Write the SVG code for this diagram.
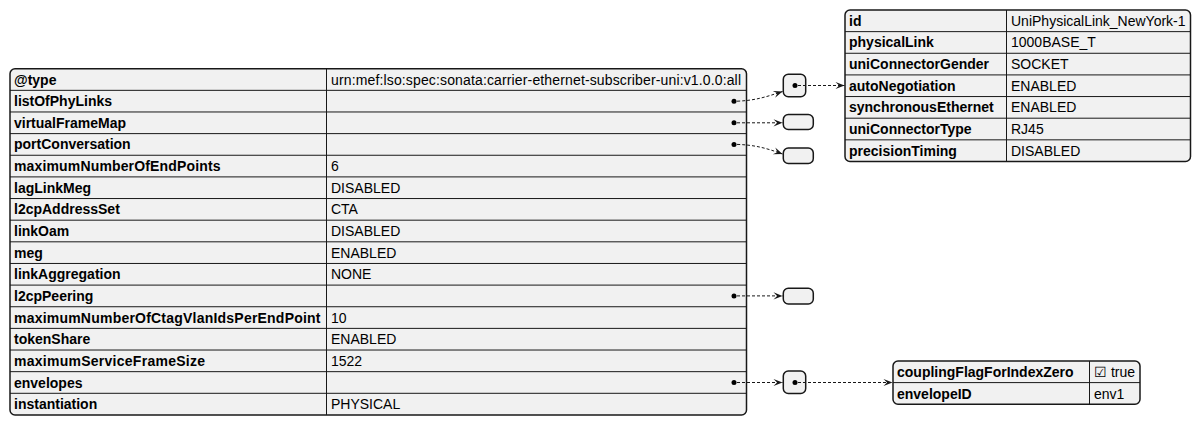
<svg xmlns="http://www.w3.org/2000/svg" width="1201" height="426" viewBox="0 0 1201 426">
<style>
.tbl{fill:#F1F1F1;stroke:#181818;stroke-width:1.5}
.ln{stroke:#181818;stroke-width:1;fill:none}
.k{font-family:"Liberation Sans",Arial,sans-serif;font-size:14px;font-weight:bold;fill:#000}
.v{font-family:"Liberation Sans",Arial,sans-serif;font-size:14px;fill:#000}
.dot{fill:#000}
.c{stroke:#181818;stroke-width:1;fill:none;stroke-dasharray:3,2}
</style>
<defs>
<marker id="ah" viewBox="0 0 10 10" refX="10" refY="5" markerWidth="10" markerHeight="9" orient="auto" markerUnits="userSpaceOnUse">
<path d="M0,1 L10,5 L0,9 L4,5 Z" fill="#181818"/>
</marker>
</defs>
<rect width="1201" height="426" fill="#FFFFFF"/>

<g id="main">
<rect class="tbl" x="10" y="68.7" width="736.5" height="346.2" rx="5"/>
<line class="ln" x1="326.5" y1="68.7" x2="326.5" y2="414.9"/>
<path class="ln" d="M10,90.34H746.5M10,111.98H746.5M10,133.62H746.5M10,155.26H746.5M10,176.9H746.5M10,198.54H746.5M10,220.18H746.5M10,241.82H746.5M10,263.46H746.5M10,285.1H746.5M10,306.74H746.5M10,328.38H746.5M10,350.02H746.5M10,371.66H746.5M10,393.3H746.5"/>
<text class="k" x="14" y="84.5">@type</text>
<text class="k" x="14" y="106.1">listOfPhyLinks</text>
<text class="k" x="14" y="127.8">virtualFrameMap</text>
<text class="k" x="14" y="149.4">portConversation</text>
<text class="k" x="14" y="171.1" textLength="206.5" lengthAdjust="spacing">maximumNumberOfEndPoints</text>
<text class="k" x="14" y="192.7">lagLinkMeg</text>
<text class="k" x="14" y="214.3">l2cpAddressSet</text>
<text class="k" x="14" y="236">linkOam</text>
<text class="k" x="14" y="257.6">meg</text>
<text class="k" x="14" y="279.3">linkAggregation</text>
<text class="k" x="14" y="300.9">l2cpPeering</text>
<text class="k" x="14" y="322.5" textLength="306.5" lengthAdjust="spacing">maximumNumberOfCtagVlanIdsPerEndPoint</text>
<text class="k" x="14" y="344.2">tokenShare</text>
<text class="k" x="14" y="365.8" textLength="191" lengthAdjust="spacing">maximumServiceFrameSize</text>
<text class="k" x="14" y="387.5">envelopes</text>
<text class="k" x="14" y="409.1">instantiation</text>
<text class="v" x="331" y="84.5" textLength="410" lengthAdjust="spacing">urn:mef:lso:spec:sonata:carrier-ethernet-subscriber-uni:v1.0.0:all</text>
<text class="v" x="331" y="171.1">6</text>
<text class="v" x="331" y="192.7">DISABLED</text>
<text class="v" x="331" y="214.3">CTA</text>
<text class="v" x="331" y="236">DISABLED</text>
<text class="v" x="331" y="257.6">ENABLED</text>
<text class="v" x="331" y="279.3">NONE</text>
<text class="v" x="331" y="322.5">10</text>
<text class="v" x="331" y="344.2">ENABLED</text>
<text class="v" x="331" y="365.8">1522</text>
<text class="v" x="331" y="409.1">PHYSICAL</text>
<circle class="dot" cx="734" cy="101.2" r="2.5"/>
<circle class="dot" cx="734" cy="122.8" r="2.5"/>
<circle class="dot" cx="734" cy="144.4" r="2.5"/>
<circle class="dot" cx="734" cy="295.9" r="2.5"/>
<circle class="dot" cx="734" cy="382.5" r="2.5"/>
</g>

<g id="phylinks-array">
<rect class="tbl" x="783.3" y="74.3" width="22.4" height="22.4" rx="5"/>
<circle class="dot" cx="795" cy="85.5" r="2.5"/>
</g>
<g id="virtualFrameMap-obj">
<rect class="tbl" x="783.3" y="114.5" width="30" height="15" rx="5"/>
</g>
<g id="portConversation-obj">
<rect class="tbl" x="783.3" y="148" width="30" height="15.5" rx="5"/>
</g>
<g id="l2cpPeering-obj">
<rect class="tbl" x="783.3" y="288.3" width="30" height="15.7" rx="5"/>
</g>
<g id="envelopes-array">
<rect class="tbl" x="783.3" y="371" width="22.4" height="22.4" rx="5"/>
<circle class="dot" cx="795" cy="382.5" r="2.5"/>
</g>

<g id="phylink">
<rect class="tbl" x="845" y="10" width="345.5" height="151.5" rx="5"/>
<line class="ln" x1="1006.5" y1="10" x2="1006.5" y2="161.5"/>
<path class="ln" d="M845,31.64H1190.5M845,53.28H1190.5M845,74.92H1190.5M845,96.56H1190.5M845,118.2H1190.5M845,139.84H1190.5"/>
<text class="k" x="849" y="25.8">id</text>
<text class="k" x="849" y="47.4">physicalLink</text>
<text class="k" x="849" y="69.1">uniConnectorGender</text>
<text class="k" x="849" y="90.7">autoNegotiation</text>
<text class="k" x="849" y="112.4">synchronousEthernet</text>
<text class="k" x="849" y="134">uniConnectorType</text>
<text class="k" x="849" y="155.6">precisionTiming</text>
<text class="v" x="1011" y="25.8">UniPhysicalLink_NewYork-1</text>
<text class="v" x="1011" y="47.4">1000BASE_T</text>
<text class="v" x="1011" y="69.1">SOCKET</text>
<text class="v" x="1011" y="90.7">ENABLED</text>
<text class="v" x="1011" y="112.4">ENABLED</text>
<text class="v" x="1011" y="134">RJ45</text>
<text class="v" x="1011" y="155.6">DISABLED</text>
</g>

<g id="envelope">
<rect class="tbl" x="893" y="361" width="247" height="43.2" rx="5"/>
<line class="ln" x1="1089.5" y1="361" x2="1089.5" y2="404.2"/>
<line class="ln" x1="893" y1="382.6" x2="1140" y2="382.6"/>
<text class="k" x="897" y="377">couplingFlagForIndexZero</text>
<text class="k" x="897" y="398.6">envelopeID</text>
<text class="v" x="1094" y="377">☑ true</text>
<text class="v" x="1094" y="398.6">env1</text>
</g>

<g id="connectors">
<path class="c" d="M737,101.2 C755,100.5 766,97 782.5,91.5" marker-end="url(#ah)"/>
<path class="c" d="M737,122.8 L782.5,122.8" marker-end="url(#ah)"/>
<path class="c" d="M737,144.4 C755,145 766,148 782.5,154" marker-end="url(#ah)"/>
<path class="c" d="M737,295.9 L782.5,295.9" marker-end="url(#ah)"/>
<path class="c" d="M737,382.5 L782.5,382.5" marker-end="url(#ah)"/>
<path class="c" d="M798,85.5 L844.5,85.5" marker-end="url(#ah)"/>
<path class="c" d="M798,382.5 L892.5,382.5" marker-end="url(#ah)"/>
</g>
</svg>
